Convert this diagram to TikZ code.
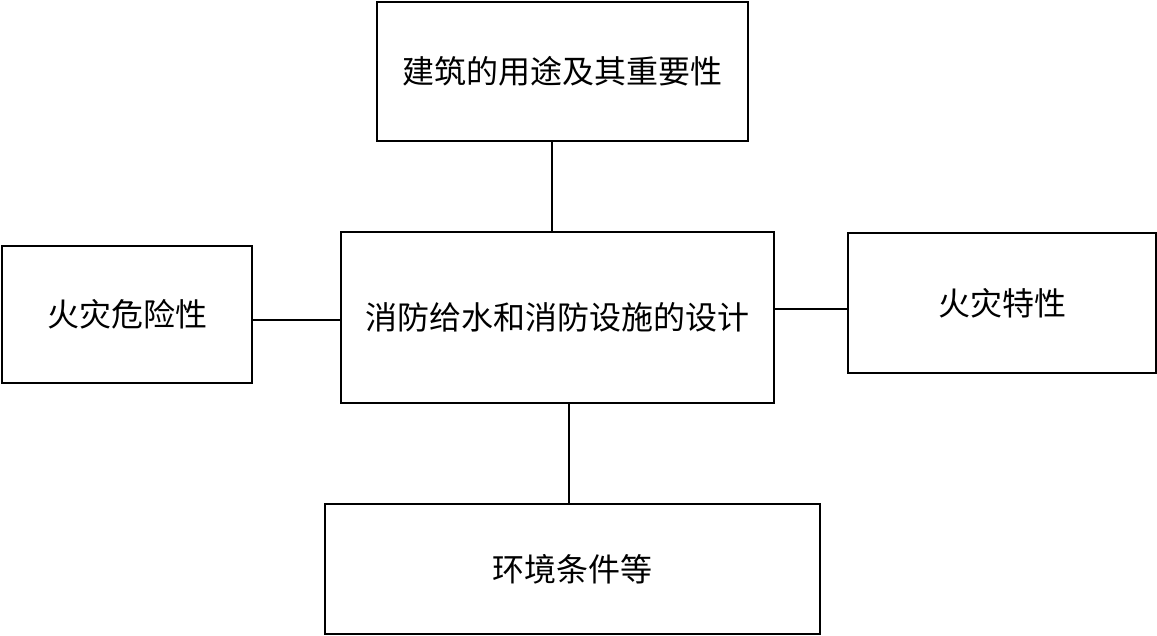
\documentclass[tikz,border=0pt]{standalone}
\usepackage{fontspec}
\newfontfamily\cjk{Noto Sans CJK SC}
\usepackage{tikz}
\usetikzlibrary{shapes,arrows}
\tikzstyle{block} = [rectangle, draw, line width=1pt, inner sep=0pt,
    font=\cjk\fontsize{16}{19}\selectfont, text centered]
\tikzstyle{line} = [draw, line width=1pt]

\begin{document}
\begin{tikzpicture}[x=0.5pt, y=-0.5pt]
  \useasboundingbox (0,0) rectangle (1157,636);
  % nodes
  \node [block, minimum width=185.5pt, minimum height=69.5pt] (usage) at (562.5,71.5) {建筑的用途及其重要性};
  \node [block, minimum width=216.5pt, minimum height=85.5pt] (design) at (557.5,317.5) {消防给水和消防设施的设计};
  \node [block, minimum width=125pt, minimum height=68.5pt] (hazard) at (127,314.5) {火灾危险性};
  \node [block, minimum width=154pt, minimum height=70pt] (feature) at (1002,303) {火灾特性};
  \node [block, minimum width=247.5pt, minimum height=65pt] (env) at (572.5,569) {环境条件等};
  % edges
  \path [line] ([xshift=-5.25pt]usage.south) -- ([xshift=-5.25pt]usage.south |- design.north);
  \path [line] ([xshift=5.75pt]design.south) -- ([xshift=5.75pt]design.south |- env.north);
  \path [line] ([yshift=-2.75pt]hazard.east) -- ([yshift=-2.75pt]hazard.east -| design.west);
  \path [line] ([yshift=-3pt]feature.west) -- ([yshift=-3pt]feature.west -| design.east);
\end{tikzpicture}
\end{document}
